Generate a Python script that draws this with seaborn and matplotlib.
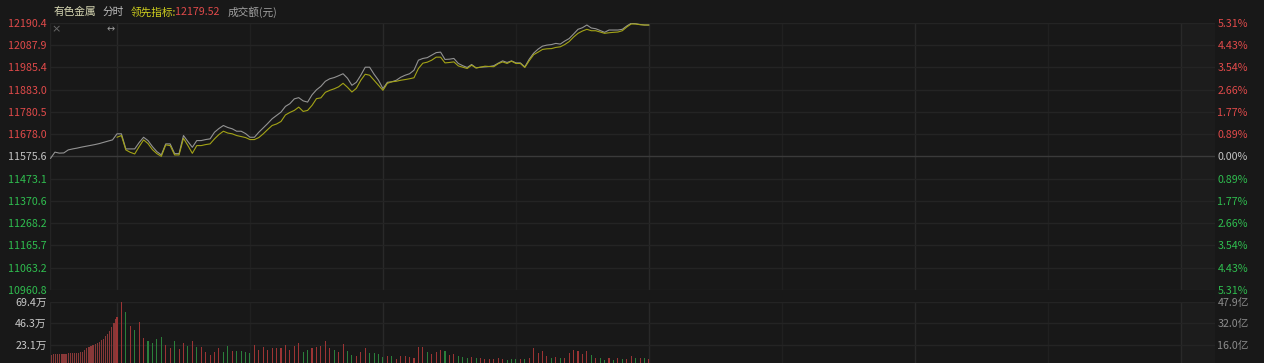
import numpy as np
import pandas as pd
import matplotlib
matplotlib.use("Agg")
import matplotlib.pyplot as plt
import seaborn as sns

# ---------------- data ----------------
base_price = 11575.6
price_ticks = [12190.4, 12087.9, 11985.4, 11883.0, 11780.5, 11678.0, 11575.6,
               11473.1, 11370.6, 11268.2, 11165.7, 11063.2, 10960.8]
price_labels = ["12190.4", "12087.9", "11985.4", "11883.0", "11780.5", "11678.0", "11575.6",
                "11473.1", "11370.6", "11268.2", "11165.7", "11063.2", "10960.8"]
pct_labels = ["5.31%", "4.43%", "3.54%", "2.66%", "1.77%", "0.89%", "0.00%",
              "0.89%", "1.77%", "2.66%", "3.54%", "4.43%", "5.31%"]

vol_ticks = [23.1, 46.3, 69.4]
vol_labels = ["23.1万", "46.3万", "69.4万"]
amount_labels = ["16.0亿", "32.0亿", "47.9亿"]

# pre-open (auction) index values, minutes -15 .. -1
pre_price = [11566.0, 11595.0, 11590.4, 11591.3, 11605.2, 11609.8, 11613.5, 11618.1,
             11621.8, 11625.1, 11629.7, 11634.3, 11640.3, 11645.9, 11651.4]

# index (white) per minute from 9:30 to 11:30
price = [11679.2, 11679.2, 11609.8, 11609.8, 11609.8, 11638.9, 11663.4, 11648.2, 11620.4, 11597.3,
         11582.1, 11632.9, 11632.9, 11588.1, 11588.1, 11671.3, 11643.6, 11617.2, 11648.2, 11648.2,
         11652.8, 11656.0, 11686.6, 11703.7, 11717.5, 11708.3, 11702.3, 11691.2, 11691.2, 11680.5,
         11663.4, 11663.4, 11686.6, 11706.9, 11726.8, 11748.5, 11763.8, 11779.0, 11805.4, 11817.8,
         11840.0, 11845.6, 11830.8, 11825.2, 11858.5, 11881.6, 11897.8, 11920.9, 11932.5, 11938.0,
         11946.4, 11955.6, 11934.8, 11902.4, 11916.3, 11948.7, 11985.7, 11985.7, 11953.3, 11925.6,
         11887.2, 11916.3, 11918.6, 11925.6, 11939.4, 11948.7, 11955.6, 11971.8, 12018.0, 12025.9,
         12029.6, 12041.1, 12052.7, 12055.0, 12021.3, 12022.6, 12025.9, 12002.8, 11992.6, 11984.3,
         11998.1, 11982.4, 11985.7, 11987.0, 11988.9, 11992.6, 12004.2, 12014.8, 12007.4, 12014.8,
         12005.5, 12005.5, 11987.0, 12022.6, 12050.4, 12068.9, 12082.7, 12087.4, 12089.7, 12095.2,
         12092.0, 12105.9, 12117.4, 12138.2, 12160.0, 12167.3, 12179.8, 12166.0, 12162.7, 12154.4,
         12146.1, 12156.7, 12156.7, 12156.7, 12160.0, 12175.2, 12187.7, 12185.8, 12182.1, 12179.8,
         12179.8]

# leading indicator (yellow) per minute
lead = [11663.4, 11671.3, 11605.2, 11594.1, 11586.7, 11620.4, 11651.4, 11634.3, 11606.6, 11588.1,
        11575.6, 11628.3, 11625.1, 11582.1, 11582.1, 11658.8, 11625.1, 11589.5, 11625.1, 11625.1,
        11629.7, 11632.9, 11656.0, 11675.9, 11691.2, 11682.9, 11679.2, 11671.3, 11666.7, 11662.1,
        11652.8, 11652.8, 11662.1, 11679.2, 11699.0, 11717.5, 11724.5, 11736.0, 11766.1, 11777.6,
        11786.9, 11802.1, 11782.2, 11786.9, 11810.0, 11841.0, 11844.7, 11870.1, 11879.3, 11886.3,
        11895.5, 11911.7, 11893.2, 11871.5, 11888.6, 11925.6, 11953.3, 11948.7, 11925.6, 11902.4,
        11879.3, 11911.7, 11918.6, 11920.9, 11925.6, 11928.8, 11932.5, 11937.1, 11979.7, 12004.2,
        12008.8, 12018.0, 12031.9, 12031.9, 12005.5, 12007.4, 12010.2, 11991.7, 11985.7, 11979.7,
        11994.9, 11982.4, 11985.7, 11990.3, 11988.9, 11988.0, 12001.8, 12010.2, 12002.8, 12013.4,
        12002.8, 12002.8, 11984.3, 12015.7, 12043.4, 12055.0, 12067.5, 12070.3, 12071.2, 12076.7,
        12079.5, 12089.7, 12103.5, 12124.3, 12141.5, 12152.1, 12160.0, 12153.5, 12153.5, 12147.5,
        12141.5, 12144.2, 12146.1, 12147.5, 12153.5, 12170.6, 12184.4, 12184.4, 12181.2, 12179.8,
        12179.52]

# pre-open volume bars (万)
pre_vol = [13.0, 13.2, 13.2, 13.4, 13.3, 13.5, 13.6, 14.0, 14.2, 14.3, 14.6, 14.6, 14.8, 15.0,
           15.5, 16.0, 17.5, 19.5, 21.0, 22.5, 23.5, 24.5, 25.5, 26.5, 28.0, 30.0, 32.5, 35.0,
           38.5, 42.0, 46.5, 51.0]

# per-minute volume (万) and direction (r = up, g = down)
volume = [53.3, 69.4, 58.6, 43.7, 39.1, 48.0, 30.3, 27.4, 25.6, 29.2,
          31.3, 23.1, 20.3, 27.4, 18.9, 25.6, 22.1, 27.4, 21.3, 21.3,
          16.0, 12.5, 16.0, 20.3, 16.0, 22.1, 16.7, 17.0, 16.7, 16.0,
          14.2, 22.8, 17.8, 21.3, 17.8, 19.6, 19.6, 19.6, 22.8, 17.8,
          22.4, 25.6, 16.0, 17.8, 19.6, 21.3, 22.1, 27.4, 19.6, 17.8,
          16.0, 23.8, 17.0, 12.5, 11.7, 16.0, 20.3, 15.0, 14.2, 13.5,
          10.7, 11.7, 11.4, 8.2, 11.4, 11.4, 10.0, 9.2, 21.3, 21.3,
          15.3, 13.5, 15.3, 17.8, 16.7, 12.5, 13.5, 11.4, 10.7, 9.2,
          10.0, 9.6, 9.2, 8.2, 8.2, 8.2, 9.2, 8.2, 7.1, 8.2,
          8.2, 8.2, 8.2, 9.6, 20.3, 15.0, 16.7, 11.4, 9.6, 10.0,
          9.2, 9.2, 15.0, 17.8, 16.7, 13.5, 16.7, 12.5, 9.6, 9.6,
          7.1, 9.2, 7.1, 9.2, 8.2, 8.2, 11.7, 9.2, 9.2, 9.2,
          8.2]
vol_dir = list("rrgrgrrggg" "grrgrrgrgr" "rrrrggrggg"
               "grrrrrrrrr" "rrggrrrrrg" "rrggrrrggg"
               "grgrrrrrrr" "grrrgrrggg" "rgrrrrrrgg"
               "grgrrrrrgr" "grrrrrrgrg" "grgrgrrgrg" "r")

# ---------------- style ----------------
BG = "#181818"
GRID = "#242424"
GRID_MAJ = "#292929"
ZERO = "#3a3a3a"
RED = "#e04a4a"
GREEN = "#2fbd4f"
NEUTRAL = "#c4c4c4"
WHITE_LINE = "#939393"
YELLOW_LINE = "#a3a316"
BAR_RED = "#9c3434"
BAR_GREEN = "#2b803b"
BAR_PRE = "#883838"
FS = 7.7

sns.set_theme(style="dark", rc={"axes.facecolor": BG, "figure.facecolor": BG,
                                "savefig.facecolor": BG})
plt.rcParams["font.family"] = ["Noto Sans CJK SC", "DejaVu Sans"]
plt.rcParams["axes.unicode_minus"] = False

W, H = 1264, 363
fig = plt.figure(figsize=(W / 100, H / 100), dpi=100)


def fx(px):
    return px / W


def fy(py):
    return 1 - py / H


X0, X1 = -15.11, 247.7   # minutes relative to 9:30
L, R = 50, 1215

ax = fig.add_axes([fx(L), fy(290), fx(R) - fx(L), fy(22.7) - fy(290)])
axv = fig.add_axes([fx(L), fy(366.7), fx(R) - fx(L), fy(301.7) - fy(366.7)])

minutes = np.arange(len(price))
pre_x = np.arange(-len(pre_price), 0)

# price lines
white_df = pd.DataFrame({"t": np.concatenate([pre_x, minutes]),
                         "p": np.concatenate([pre_price, price])})
lead_df = pd.DataFrame({"t": minutes, "p": lead})
sns.lineplot(data=white_df, x="t", y="p", ax=ax, color=WHITE_LINE, lw=0.8,
             estimator=None, sort=False, zorder=3)
sns.lineplot(data=lead_df, x="t", y="p", ax=ax, color=YELLOW_LINE, lw=0.8,
             estimator=None, sort=False, zorder=4)

# volume bars
pre_bar_x = -15 + (np.arange(len(pre_vol)) + 0.5) * 15 / len(pre_vol)
sns.barplot(x=pre_bar_x, y=pre_vol, ax=axv, color=BAR_PRE, native_scale=True,
            width=0.62, saturation=1, errorbar=None, linewidth=0, zorder=3)
vol_df = pd.DataFrame({"t": minutes, "v": volume, "d": vol_dir})
sns.barplot(data=vol_df, x="t", y="v", hue="d", ax=axv,
            palette={"r": BAR_RED, "g": BAR_GREEN}, native_scale=True,
            width=0.24, dodge=False, saturation=1, errorbar=None,
            linewidth=0, legend=False, zorder=3)

vgrid_major = [0, 60, 120, 180, 240]
vgrid_minor = [30, 90, 150, 210]

for a in (ax, axv):
    a.set_facecolor(BG)
    a.set_xlim(X0, X1)
    a.set_xlabel("")
    a.set_ylabel("")
    a.set_xticks([])
    for s in a.spines.values():
        s.set_visible(False)
    a.axvline(X0 + 0.02, color=GRID, lw=1, zorder=1)
    for v in vgrid_major:
        a.axvline(v, color=GRID_MAJ, lw=1, zorder=1)
    for v in vgrid_minor:
        a.axvline(v, color="#202020", lw=1, zorder=1)
    a.axvspan(240, X1, color="#1c1c1c", lw=0, zorder=0)

# price axis
ax.set_ylim(price_ticks[-1], price_ticks[0])
for v in price_ticks:
    ax.axhline(v, color=ZERO if v == base_price else GRID, lw=1, zorder=1)
ax.set_yticks(price_ticks)
ax.set_yticklabels(price_labels)
ax.tick_params(axis="y", length=0, pad=2.4, labelsize=FS)


def level_color(v):
    if v > base_price:
        return RED
    if v < base_price:
        return GREEN
    return NEUTRAL


for lab, v in zip(ax.get_yticklabels(), price_ticks):
    lab.set_color(level_color(v))

ax2 = ax.twinx()
ax2.set_ylim(price_ticks[-1], price_ticks[0])
ax2.set_yticks(price_ticks)
ax2.set_yticklabels(pct_labels)
ax2.tick_params(axis="y", length=0, pad=1.7, labelsize=FS)
for s in ax2.spines.values():
    s.set_visible(False)
for lab, v in zip(ax2.get_yticklabels(), price_ticks):
    lab.set_color(level_color(v))

# volume axis
axv.set_ylim(0, vol_ticks[-1])
for v in vol_ticks:
    axv.axhline(v, color=GRID, lw=1, zorder=1)
axv.set_yticks(vol_ticks)
axv.set_yticklabels(vol_labels)
axv.tick_params(axis="y", length=0, pad=2.4, labelsize=FS, labelcolor="#c8c8c8")
axv2 = axv.twinx()
axv2.set_ylim(0, vol_ticks[-1])
axv2.set_yticks(vol_ticks)
axv2.set_yticklabels(amount_labels)
axv2.tick_params(axis="y", length=0, pad=1.7, labelsize=FS, labelcolor="#8c8c8c")
for s in axv2.spines.values():
    s.set_visible(False)

# header texts
ty = fy(12)
fig.text(fx(54), ty, "有色金属", color="#d6d6b2", fontsize=FS, va="center")
fig.text(fx(103), ty, "分时", color="#bdbdbd", fontsize=FS, va="center")
fig.text(fx(131), ty, "领先指标:", color="#cfcf1e", fontsize=FS, va="center")
fig.text(fx(175), ty, "12179.52", color=RED, fontsize=FS, va="center")
fig.text(fx(228), ty, "成交额(元)", color="#a0a0a0", fontsize=FS, va="center")
fig.text(fx(56), fy(29), "×", color="#6a6a6a", fontsize=8, va="center", ha="center",
         family=["DejaVu Sans"])
fig.text(fx(110.5), fy(29), "↔", color="#9a9a9a", fontsize=7, va="center", ha="center",
         family=["DejaVu Sans"])

fig.savefig("out.png", dpi=100, facecolor=BG)
